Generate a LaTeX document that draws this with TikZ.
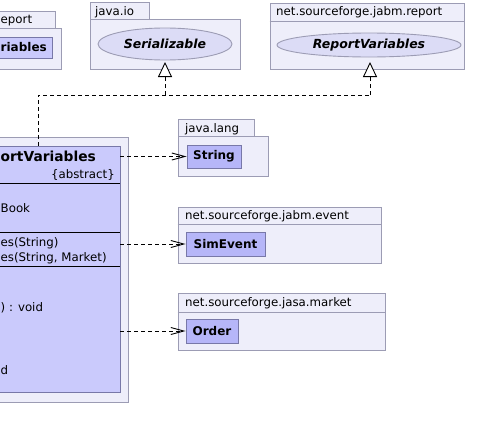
\documentclass[tikz,border=0pt]{standalone}
\usepackage{fontspec}
\setmainfont{DejaVu Sans}
\usetikzlibrary{arrows.meta,shapes.geometric}
\definecolor{pkgfill}{HTML}{EEEEFA}
\definecolor{pkgline}{HTML}{9C9CB4}
\definecolor{clsfill}{HTML}{CACAFC}
\definecolor{smallfill}{HTML}{B6B6F8}
\definecolor{clsline}{HTML}{7878A8}
\definecolor{ellfill}{HTML}{DCDCF6}
\tikzset{
  pkg/.style={draw=pkgline, fill=pkgfill, rectangle, inner sep=0pt, line width=0.9pt},
  cls/.style={draw=clsline, fill=clsfill, rectangle, inner sep=0pt, line width=0.9pt},
  smallcls/.style={draw=clsline, fill=smallfill, rectangle, inner sep=0pt, line width=0.9pt},
  iface/.style={draw=pkgline, fill=ellfill, ellipse, inner sep=0pt, line width=0.9pt},
  lbl/.style={inner sep=0pt, font=\fontsize{11.8}{14}\selectfont},
  bname/.style={inner sep=0pt, font=\fontsize{12}{14}\selectfont\bfseries},
  tname/.style={inner sep=0pt, font=\fontsize{13.8}{16}\selectfont\bfseries},
  iname/.style={inner sep=0pt, font=\fontsize{12.5}{14}\selectfont\bfseries\itshape},
  inh/.style={line width=0.9pt, dash pattern=on 4pt off 3pt, -{Triangle[open, length=15pt, width=14pt, fill=white]}},
  inhline/.style={line width=0.9pt, dash pattern=on 4pt off 3pt},
  dep/.style={line width=0.9pt, dash pattern=on 4pt off 3pt, -{Straight Barb[length=13pt, width=7pt]}},
  sep/.style={line width=0.9pt, draw=black}
}
\begin{document}
\begin{tikzpicture}[x=1pt, y=-1pt]
\useasboundingbox (0,0) rectangle (478,439);
\clip (0,0) rectangle (478,439);
\fill[white] (0,0) rectangle (478,439);

% top-left package (cut)
\node[pkg, minimum width=115pt, minimum height=17pt] (tlTab) at (-2.5,19.5) {};
\node[pkg, minimum width=121pt, minimum height=41pt] (tlPkg) at (0.5,48.5) {};
\node[lbl, anchor=base west] (tlLbl) at (0.5,23) {eport};
\node[cls, minimum width=112pt, minimum height=21pt] (tlCls) at (-4,47.5) {};
\node[bname, anchor=base west] (tlName) at (0.5,51.5) {riables};

% java.io
\node[pkg, minimum width=59pt, minimum height=17pt] (ioTab) at (119.5,10.5) {};
\node[pkg, minimum width=150pt, minimum height=50pt] (ioPkg) at (165,44) {};
\node[lbl, anchor=base west] (ioLbl) at (95,15) {java.io};
\node[iface, minimum width=134pt, minimum height=32pt] (ser) at (165,44) {};
\node[iname] (serName) at (165,44) {Serializable};

% net.sourceforge.jabm.report
\node[pkg, minimum width=194pt, minimum height=66pt] (repPkg) at (367,36) {};
\draw[pkgline, line width=0.9pt] (repPkg.west |- 0,21) -- (repPkg.east |- 0,21);
\node[lbl, anchor=base west] (repLbl) at (276,16) {net.sourceforge.jabm.report};
\node[iface, minimum width=184pt, minimum height=24pt] (rv) at (369,45) {};
\node[iname] (rvName) at (369,45) {ReportVariables};

% main package and class (cut)
\node[pkg, minimum width=238pt, minimum height=265pt] (mainPkg) at (9,269.5) {};
\node[cls, minimum width=220pt, minimum height=246pt] (mc) at (10,269) {};
\draw[sep] (mc.west |- 0,183) -- (mc.east |- 0,183);
\draw[sep] (mc.west |- 0,232) -- (mc.east |- 0,232);
\draw[sep] (mc.west |- 0,266) -- (mc.east |- 0,266);
\node[tname, anchor=base west] (mcName) at (0.5,161) {ortVariables};
\node[lbl, anchor=base east] (mcAbs) at (115,178) {\{abstract\}};
\node[lbl, anchor=base west] (mcA1) at (0.5,212) {Book};
\node[lbl, anchor=base west] (mcM1) at (0.5,246) {es(String)};
\node[lbl, anchor=base west] (mcM2) at (0.5,261) {es(String, Market)};
\node[lbl, anchor=base west] (mcM3) at (0.5,311) {) : void};
\node[lbl, anchor=base west] (mcM4) at (0.5,374) {d};

% java.lang
\node[pkg, minimum width=76pt, minimum height=17pt] (langTab) at (216,127.5) {};
\node[pkg, minimum width=90pt, minimum height=40pt] (langPkg) at (223,156) {};
\node[lbl, anchor=base west] (langLbl) at (185,132) {java.lang};
\node[smallcls, minimum width=54pt, minimum height=23pt] (str) at (214,156.5) {};
\node[bname] (strName) at (214,156.5) {String};

% net.sourceforge.jabm.event
\node[pkg, minimum width=203pt, minimum height=56pt] (evPkg) at (279.5,235) {};
\draw[pkgline, line width=0.9pt] (evPkg.west |- 0,224) -- (evPkg.east |- 0,224);
\node[lbl, anchor=base west] (evLbl) at (185,219) {net.sourceforge.jabm.event};
\node[smallcls, minimum width=79pt, minimum height=24pt] (sim) at (225.5,244) {};
\node[bname] (simName) at (225.5,244) {SimEvent};

% net.sourceforge.jasa.market
\node[pkg, minimum width=207pt, minimum height=57pt] (mkPkg) at (281.5,321.5) {};
\draw[pkgline, line width=0.9pt] (mkPkg.west |- 0,312) -- (mkPkg.east |- 0,312);
\node[lbl, anchor=base west] (mkLbl) at (185,306) {net.sourceforge.jasa.market};
\node[smallcls, minimum width=52pt, minimum height=24pt] (ord) at (212,331) {};
\node[bname] (ordName) at (212,331) {Order};

% realization connectors
\coordinate (bendL) at (38,95);
\coordinate (bendS) at (165,95);
\coordinate (tipS) at (165,62);
\coordinate (tipR) at (370,62);
\draw[inhline] (mc.north -| bendL) -- (bendL) -- (bendL -| tipR);
\draw[inh] (bendL -| tipR) -- (tipR);
\draw[inh] (bendS) -- (tipS);

% dependencies
\draw[dep] (mc.east |- str.west) -- (str.west);
\draw[dep] (mc.east |- sim.west) -- (sim.west);
\draw[dep] (mc.east |- ord.west) -- (ord.west);
\end{tikzpicture}
\end{document}
